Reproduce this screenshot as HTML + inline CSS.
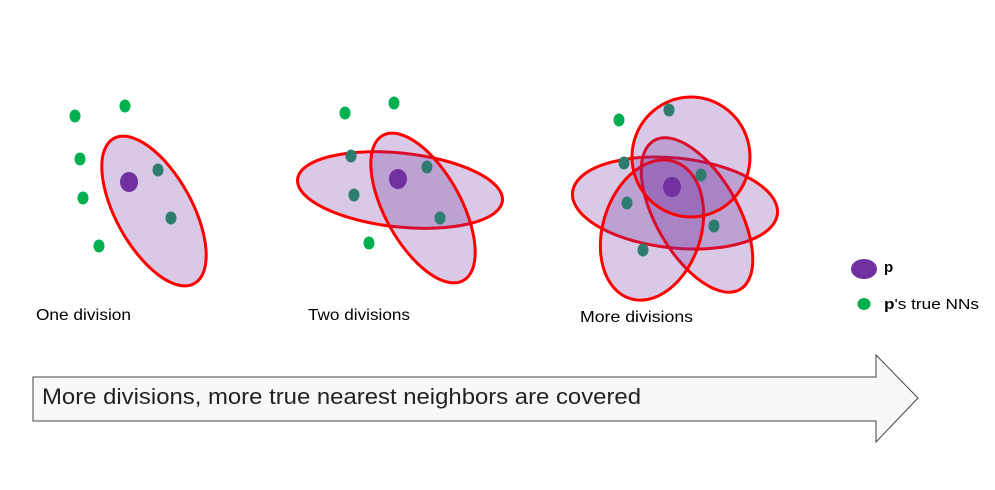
<!DOCTYPE html>
<html><head><meta charset="utf-8"><style>
html,body{margin:0;padding:0;background:#fff;}
svg{display:block;font-family:"Liberation Sans",sans-serif;}
</style></head><body>
<svg width="995" height="490" viewBox="0 0 995 490">
<g fill="rgba(112,48,160,0.26)" stroke="#f00" stroke-width="3">
  <ellipse cx="154" cy="211" rx="83" ry="38" transform="rotate(61 154 211)"/>
  <ellipse cx="400" cy="190" rx="103" ry="37" transform="rotate(6 400 190)"/>
  <ellipse cx="423" cy="208" rx="83" ry="38" transform="rotate(61 423 208)"/>
  <ellipse cx="675" cy="203" rx="103" ry="45" transform="rotate(6 675 203)"/>
  <ellipse cx="697" cy="215" rx="86" ry="41" transform="rotate(60 697 215)"/>
  <ellipse cx="652" cy="230" rx="72" ry="49" transform="rotate(-72 652 230)"/>
  <ellipse cx="691" cy="157" rx="59" ry="60"/>
</g>
<g fill="#00b050">
  <ellipse cx="75" cy="116" rx="5.5" ry="6.5"/>
  <ellipse cx="125" cy="106" rx="5.5" ry="6.5"/>
  <ellipse cx="80" cy="159" rx="5.5" ry="6.5"/>
  <ellipse cx="83" cy="198" rx="5.5" ry="6.5"/>
  <ellipse cx="99" cy="246" rx="5.5" ry="6.5"/>
  <ellipse cx="345" cy="113" rx="5.5" ry="6.5"/>
  <ellipse cx="394" cy="103" rx="5.5" ry="6.5"/>
  <ellipse cx="369" cy="243" rx="5.5" ry="6.5"/>
  <ellipse cx="619" cy="120" rx="5.5" ry="6.5"/>
</g>
<g fill="#2e7b70">
  <ellipse cx="158" cy="170" rx="5.5" ry="6.5"/>
  <ellipse cx="171" cy="218" rx="5.5" ry="6.5"/>
  <ellipse cx="351" cy="156" rx="5.5" ry="6.5"/>
  <ellipse cx="354" cy="195" rx="5.5" ry="6.5"/>
  <ellipse cx="427" cy="167" rx="5.5" ry="6.5"/>
  <ellipse cx="440" cy="218" rx="5.5" ry="6.5"/>
  <ellipse cx="669" cy="110" rx="5.5" ry="6.5"/>
  <ellipse cx="624" cy="163" rx="5.5" ry="6.5"/>
  <ellipse cx="627" cy="203" rx="5.5" ry="6.5"/>
  <ellipse cx="701" cy="175" rx="5.5" ry="6.5"/>
  <ellipse cx="714" cy="226" rx="5.5" ry="6.5"/>
  <ellipse cx="643" cy="250" rx="5.5" ry="6.5"/>
</g>
<g fill="#7030a0">
  <ellipse cx="129" cy="182" rx="9" ry="10"/>
  <ellipse cx="398" cy="179" rx="9" ry="10"/>
  <ellipse cx="672" cy="187" rx="9" ry="10"/>
</g>
<g font-size="16" fill="#000">
  <text x="36" y="320" textLength="95" lengthAdjust="spacingAndGlyphs">One division</text>
  <text x="308" y="320" textLength="102" lengthAdjust="spacingAndGlyphs">Two divisions</text>
  <text x="580" y="322" textLength="113" lengthAdjust="spacingAndGlyphs">More divisions</text>
</g>
<g>
  <ellipse cx="864" cy="269" rx="13" ry="10" fill="#7030a0"/>
  <text x="884" y="272" font-size="15" font-weight="bold">p</text>
  <ellipse cx="864" cy="304" rx="6.5" ry="6" fill="#00b050"/>
  <text x="884" y="309" font-size="15" textLength="95" lengthAdjust="spacingAndGlyphs"><tspan font-weight="bold">p</tspan>'s true NNs</text>
</g>
<polygon points="33,377 876,377 876,355 918,398 876,442 876,421 33,421" fill="#f8f8f8" stroke="#444" stroke-width="1"/>
<text x="42" y="404" font-size="22" fill="#222" textLength="599" lengthAdjust="spacingAndGlyphs">More divisions, more true nearest neighbors are covered</text>
</svg>
</body></html>
